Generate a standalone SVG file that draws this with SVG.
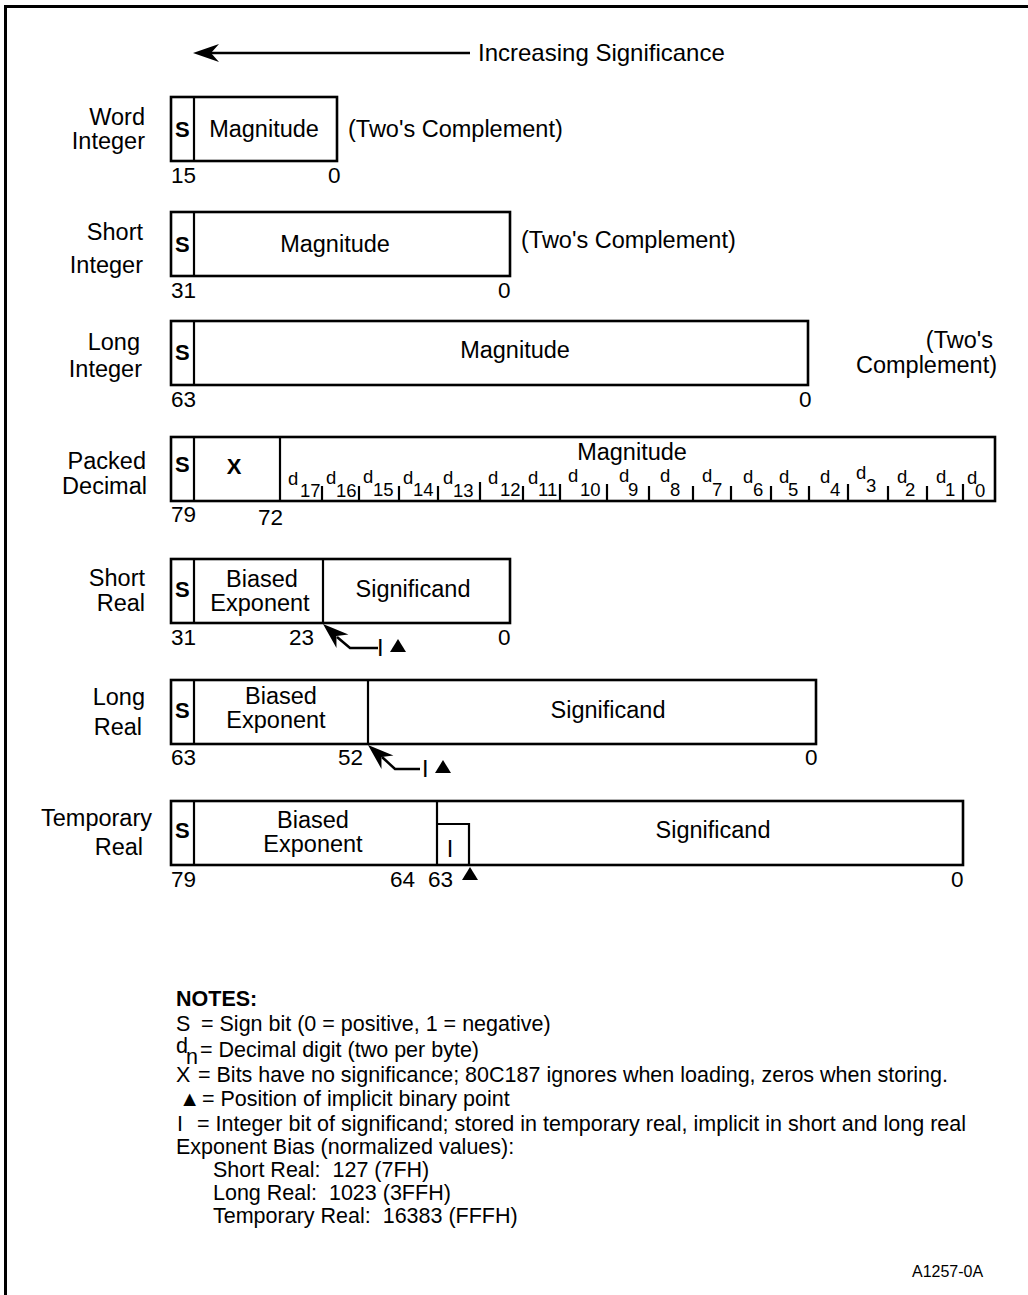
<svg xmlns="http://www.w3.org/2000/svg" xmlns:xlink="http://www.w3.org/1999/xlink" width="1028" height="1295" viewBox="0 0 1028 1295">
<style>
text{font-family:"Liberation Sans",Arial,sans-serif;fill:#000}
.lb{font-size:23.5px}
.lbl{font-size:23.5px;text-anchor:end}
.c{text-anchor:middle}
.b{font-weight:bold;font-size:22px}
.num{font-size:22.5px}
.dg{font-size:18.5px}
.nt{font-size:21.5px;white-space:pre}
.box{fill:none;stroke:#000;stroke-width:2.6}
.dv{stroke:#000;stroke-width:2.2;fill:none}
.tk{stroke:#000;stroke-width:2.2}
.ln{stroke:#000;stroke-width:2.5;fill:none}
</style>
<defs>
<polygon id="ah" points="0,0 26,-9 18,0 26,9" fill="#000"/>
</defs>
<rect width="1028" height="1295" fill="#fff"/>
<path d="M5.5,1295 V6.5 H1028" fill="none" stroke="#000" stroke-width="3"/>

<g id="connectors">
<line class="ln" x1="210" y1="53" x2="470" y2="53"/>
<use xlink:href="#ah" transform="translate(193,53)"/>
<polyline class="ln" points="337,637 350,648 378,648"/>
<use xlink:href="#ah" transform="translate(323,624) rotate(41.6)"/>
<polyline class="ln" points="382,757 395,769 420,769"/>
<use xlink:href="#ah" transform="translate(368,745) rotate(41.6)"/>
</g>

<g id="title">
<text x="478" y="61" font-size="24">Increasing Significance</text>
</g>

<g id="word-integer">
<text class="lbl" x="145" y="125">Word</text>
<text class="lbl" x="145" y="149">Integer</text>
<rect class="box" x="171" y="97" width="166" height="64"/>
<line class="dv" x1="194" y1="97" x2="194" y2="161"/>
<text class="b" x="175" y="137">S</text>
<text class="lb c" x="264" y="137">Magnitude</text>
<text class="lb" x="348" y="137">(Two's Complement)</text>
<text class="num" x="171" y="183">15</text>
<text class="num" x="328" y="183">0</text>
</g>

<g id="short-integer">
<text class="lbl" x="143" y="240">Short</text>
<text class="lbl" x="143" y="273">Integer</text>
<rect class="box" x="171" y="212" width="339" height="64"/>
<line class="dv" x1="194" y1="212" x2="194" y2="276"/>
<text class="b" x="175" y="252">S</text>
<text class="lb c" x="335" y="252">Magnitude</text>
<text class="lb" x="521" y="248">(Two's Complement)</text>
<text class="num" x="171" y="298">31</text>
<text class="num" x="498" y="298">0</text>
</g>

<g id="long-integer">
<text class="lbl" x="140" y="350">Long</text>
<text class="lbl" x="142" y="377">Integer</text>
<rect class="box" x="171" y="321" width="637" height="64"/>
<line class="dv" x1="194" y1="321" x2="194" y2="385"/>
<text class="b" x="175" y="360">S</text>
<text class="lb c" x="515" y="358">Magnitude</text>
<text class="lb" x="993" y="348" text-anchor="end">(Two's</text>
<text class="lb" x="997" y="373" text-anchor="end">Complement)</text>
<text class="num" x="171" y="407">63</text>
<text class="num" x="799" y="407">0</text>
</g>

<g id="packed-decimal">
<text class="lbl" x="146" y="469">Packed</text>
<text class="lbl" x="147" y="494">Decimal</text>
<rect class="box" x="171" y="437" width="824" height="64"/>
<line class="dv" x1="194" y1="437" x2="194" y2="501"/>
<line class="dv" x1="280" y1="437" x2="280" y2="501"/>
<text class="b" x="175" y="472">S</text>
<text class="b c" x="234" y="474">X</text>
<text class="lb c" x="632" y="460">Magnitude</text>
<g class="tk">
<line x1="322" y1="486" x2="322" y2="501"/>
<line x1="359" y1="486" x2="359" y2="501"/>
<line x1="399" y1="486" x2="399" y2="501"/>
<line x1="438" y1="486" x2="438" y2="501"/>
<line x1="480" y1="482" x2="480" y2="501"/>
<line x1="523" y1="486" x2="523" y2="501"/>
<line x1="560" y1="484" x2="560" y2="501"/>
<line x1="607" y1="484" x2="607" y2="501"/>
<line x1="649" y1="486" x2="649" y2="501"/>
<line x1="693" y1="486" x2="693" y2="501"/>
<line x1="731" y1="486" x2="731" y2="501"/>
<line x1="771" y1="486" x2="771" y2="501"/>
<line x1="809" y1="486" x2="809" y2="501"/>
<line x1="848" y1="484" x2="848" y2="501"/>
<line x1="888" y1="486" x2="888" y2="501"/>
<line x1="927" y1="486" x2="927" y2="501"/>
<line x1="963" y1="484" x2="963" y2="501"/>
</g>
<text class="dg" x="288" y="485">d<tspan x="300" y="497">17</tspan></text>
<text class="dg" x="326" y="484">d<tspan x="336" y="497">16</tspan></text>
<text class="dg" x="363" y="483">d<tspan x="373" y="496">15</tspan></text>
<text class="dg" x="403" y="484">d<tspan x="413" y="496">14</tspan></text>
<text class="dg" x="443" y="484">d<tspan x="453" y="497">13</tspan></text>
<text class="dg" x="488" y="484">d<tspan x="500" y="496">12</tspan></text>
<text class="dg" x="528" y="484">d<tspan x="538" y="496">11</tspan></text>
<text class="dg" x="568" y="482">d<tspan x="580" y="496">10</tspan></text>
<text class="dg" x="619" y="482">d<tspan x="628" y="496">9</tspan></text>
<text class="dg" x="660" y="482">d<tspan x="670" y="496">8</tspan></text>
<text class="dg" x="702" y="482">d<tspan x="712" y="496">7</tspan></text>
<text class="dg" x="743" y="483">d<tspan x="753" y="496">6</tspan></text>
<text class="dg" x="779" y="483">d<tspan x="788" y="496">5</tspan></text>
<text class="dg" x="820" y="483">d<tspan x="830" y="496">4</tspan></text>
<text class="dg" x="856" y="479">d<tspan x="866" y="492">3</tspan></text>
<text class="dg" x="897" y="483">d<tspan x="905" y="496">2</tspan></text>
<text class="dg" x="936" y="483">d<tspan x="945" y="496">1</tspan></text>
<text class="dg" x="967" y="484">d<tspan x="975" y="497">0</tspan></text>
<text class="num" x="171" y="522">79</text>
<text class="num" x="258" y="525">72</text>
</g>

<g id="short-real">
<text class="lbl" x="145" y="586">Short</text>
<text class="lbl" x="145" y="611">Real</text>
<rect class="box" x="171" y="559" width="339" height="64"/>
<line class="dv" x1="194" y1="559" x2="194" y2="623"/>
<line class="dv" x1="323" y1="559" x2="323" y2="623"/>
<text class="b" x="175" y="597">S</text>
<text class="lb c" x="262" y="587">Biased</text>
<text class="lb c" x="260" y="611">Exponent</text>
<text class="lb c" x="413" y="597">Significand</text>
<text class="num" x="171" y="645">31</text>
<text class="num" x="289" y="645">23</text>
<text class="num" x="498" y="645">0</text>
<text class="lb" x="377" y="656">I</text>
<polygon points="390,652 398,639 406,652" fill="#000"/>
</g>

<g id="long-real">
<text class="lbl" x="145" y="705">Long</text>
<text class="lbl" x="142" y="735">Real</text>
<rect class="box" x="171" y="680" width="645" height="64"/>
<line class="dv" x1="194" y1="680" x2="194" y2="744"/>
<line class="dv" x1="368" y1="680" x2="368" y2="744"/>
<text class="b" x="175" y="718">S</text>
<text class="lb c" x="281" y="704">Biased</text>
<text class="lb c" x="276" y="728">Exponent</text>
<text class="lb c" x="608" y="718">Significand</text>
<text class="num" x="171" y="765">63</text>
<text class="num" x="338" y="765">52</text>
<text class="num" x="805" y="765">0</text>
<text class="lb" x="422" y="777">I</text>
<polygon points="435,773 443,760 451,773" fill="#000"/>
</g>

<g id="temporary-real">
<text class="lbl" x="152" y="826">Temporary</text>
<text class="lbl" x="143" y="855">Real</text>
<rect class="box" x="171" y="801" width="792" height="64"/>
<line class="dv" x1="194" y1="801" x2="194" y2="865"/>
<line class="dv" x1="437" y1="801" x2="437" y2="865"/>
<path class="dv" d="M437,824 H469 V865"/>
<text class="lb c" x="450" y="857">I</text>
<text class="b" x="175" y="838">S</text>
<text class="lb c" x="313" y="828">Biased</text>
<text class="lb c" x="313" y="852">Exponent</text>
<text class="lb c" x="713" y="838">Significand</text>
<text class="num" x="171" y="887">79</text>
<text class="num" x="390" y="887">64</text>
<text class="num" x="428" y="887">63</text>
<text class="num" x="951" y="887">0</text>
<polygon points="462,880 470,867 478,880" fill="#000"/>
</g>

<g id="notes">
<text class="nt" x="176" y="1006" font-weight="bold">NOTES:</text>
<text class="nt" x="176" y="1031">S</text>
<text class="nt" x="201" y="1031">= Sign bit (0 = positive, 1 = negative)</text>
<text class="nt" x="176" y="1053">d</text>
<text class="nt" x="186" y="1064" font-size="19">n</text>
<text class="nt" x="200" y="1057">= Decimal digit (two per byte)</text>
<text class="nt" x="176" y="1082">X</text>
<text class="nt" x="198" y="1082">= Bits have no significance; 80C187 ignores when loading, zeros when storing.</text>
<text class="nt" x="179" y="1106" font-family="DejaVu Sans" font-size="16">▲</text>
<text class="nt" x="202" y="1106">= Position of implicit binary point</text>
<text class="nt" x="177" y="1131">I</text>
<text class="nt" x="197" y="1131">= Integer bit of significand; stored in temporary real, implicit in short and long real</text>
<text class="nt" x="176" y="1154">Exponent Bias (normalized values):</text>
<text class="nt" x="213" y="1177" xml:space="preserve">Short Real:  127 (7FH)</text>
<text class="nt" x="213" y="1200" xml:space="preserve">Long Real:  1023 (3FFH)</text>
<text class="nt" x="213" y="1223" xml:space="preserve">Temporary Real:  16383 (FFFH)</text>
</g>

<g id="figure-id">
<text x="912" y="1277" font-size="16">A1257-0A</text>
</g>
</svg>
